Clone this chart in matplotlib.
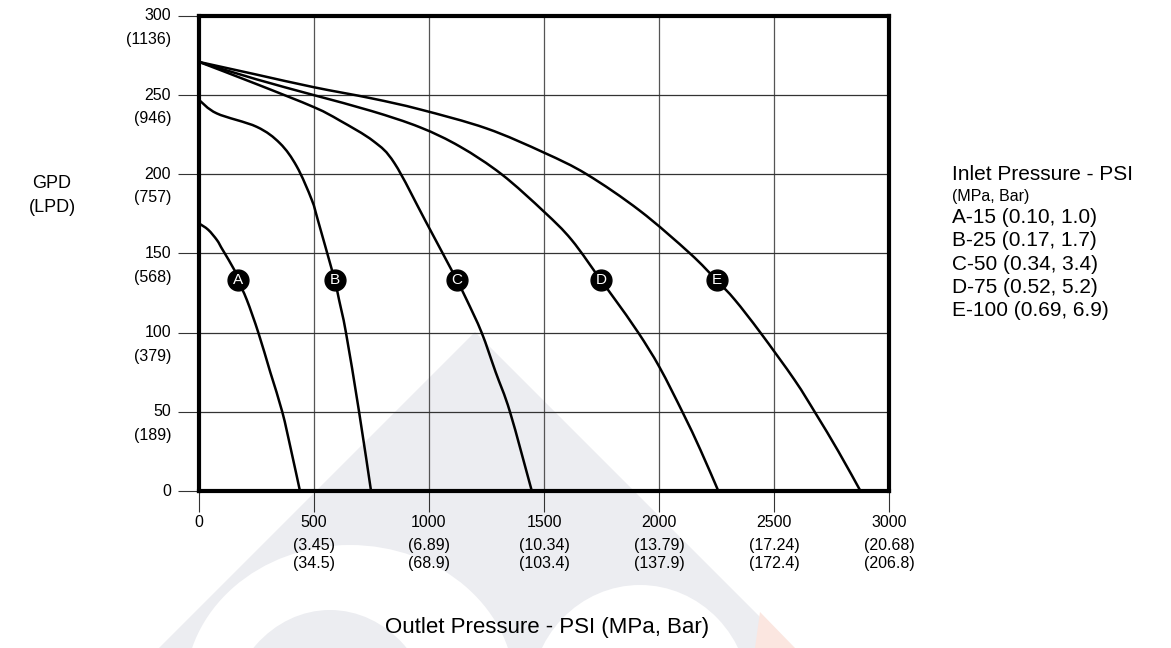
import numpy as np
import matplotlib
matplotlib.use('Agg')
import matplotlib.pyplot as plt
from matplotlib.patches import Polygon, Ellipse, PathPatch
from matplotlib.path import Path

plt.rcParams['font.family'] = ['Liberation Sans', 'DejaVu Sans']

# curve data (outlet psi, GPD)
a_x = [0, 40, 78, 96, 160, 170, 208, 258, 310, 362, 400, 439]
a_y = [169, 165, 158.5, 154, 138, 133, 120.7, 100, 75, 50, 26, 0]
b_x = [0, 77, 251, 352, 425, 490, 517, 578, 591, 609, 639, 696, 748]
b_y = [247, 238.5, 230, 219.6, 205, 184, 171, 139.6, 133, 120.7, 100, 50, 0]
c_x = [0, 250, 500, 612, 758, 850, 983, 1091, 1122, 1164, 1229, 1290, 1352, 1447]
c_y = [271, 257, 242.4, 234, 221, 207, 171, 141.5, 133, 120.7, 100, 75, 50, 0]
d_x = [0, 250, 500, 750, 961, 1135, 1316, 1500, 1620, 1748, 1810, 1910, 2003, 2105, 2180, 2258]
d_y = [271, 260, 250, 240, 229.7, 217.5, 200, 176.4, 158.6, 133, 120.7, 100, 78, 49, 26, 0]
e_x = [0, 250, 500, 750, 961, 1250, 1500, 1686, 1917, 2135, 2251, 2330, 2441, 2590, 2681, 2780, 2876]
e_y = [271, 263, 255, 248, 241, 229, 213.7, 200, 177, 150, 133, 120.7, 100, 70, 49, 25, 0]

curve_names = ['A', 'B', 'C', 'D', 'E']
marker_x = [170, 591, 1122, 1748, 2251]
marker_y = [133, 133, 133, 133, 133]

x_ticks = [0, 500, 1000, 1500, 2000, 2500, 3000]
x_mpa = ['', '(3.45)', '(6.89)', '(10.34)', '(13.79)', '(17.24)', '(20.68)']
x_bar = ['', '(34.5)', '(68.9)', '(103.4)', '(137.9)', '(172.4)', '(206.8)']
y_ticks = [0, 50, 100, 150, 200, 250, 300]
y_lpd = ['', '(189)', '(379)', '(568)', '(757)', '(946)', '(1136)']

legend_lines = ['A-15 (0.10, 1.0)', 'B-25 (0.17, 1.7)', 'C-50 (0.34, 3.4)',
                'D-75 (0.52, 5.2)', 'E-100 (0.69, 6.9)']

W, H = 1171, 648
fig = plt.figure(figsize=(W / 100, H / 100), dpi=100)


def fp(x, y):
    return (x / W, 1 - y / H)


def smooth_path(xs, ys):
    # Catmull-Rom through the read points, drawn as bezier segments
    p = np.column_stack([xs, ys]).astype(float)
    pts = np.vstack([p[0], p, p[-1]])
    verts = [p[0]]
    codes = [Path.MOVETO]
    for i in range(1, len(pts) - 2):
        c1 = pts[i] + (pts[i + 1] - pts[i - 1]) / 6
        c2 = pts[i + 1] - (pts[i + 2] - pts[i]) / 6
        verts += [c1, c2, pts[i + 1]]
        codes += [Path.CURVE4] * 3
    return Path(verts, codes)


# faint logo watermark behind the chart
grey = '#ecedf1'
wm = [Polygon([fp(475, 332), fp(159, 648), fp(791, 648)], closed=True,
              facecolor=grey, edgecolor='none', transform=fig.transFigure, zorder=-3),
      Ellipse(fp(350, 690), 330 / W, 290 / H, facecolor='white', edgecolor='none',
              transform=fig.transFigure, zorder=-2),
      Ellipse(fp(330, 730), 210 / W, 240 / H, facecolor=grey, edgecolor='none',
              transform=fig.transFigure, zorder=-1),
      Ellipse(fp(640, 700), 220 / W, 230 / H, facecolor='white', edgecolor='none',
              transform=fig.transFigure, zorder=-2),
      Polygon([fp(760, 612), fp(795, 648), fp(755, 648)], closed=True,
              facecolor='#fbe6e0', edgecolor='none', transform=fig.transFigure, zorder=-1)]
for p in wm:
    fig.add_artist(p)

ax = fig.add_axes([199 / W, 1 - 491 / H, 690 / W, 475 / H])
ax.set_facecolor('none')
ax.set_xlim(0, 3000)
ax.set_ylim(0, 300)

for v in x_ticks[1:-1]:
    ax.axvline(v, color='#555555', lw=0.9, zorder=1)
for v in y_ticks[1:-1]:
    ax.axhline(v, color='#333333', lw=0.9, zorder=1)

for xs, ys in [(a_x, a_y), (b_x, b_y), (c_x, c_y), (d_x, d_y), (e_x, e_y)]:
    ax.add_patch(PathPatch(smooth_path(xs, ys), facecolor='none', edgecolor='black',
                           lw=1.8, capstyle='butt', zorder=3))

for name, mx, my in zip(curve_names, marker_x, marker_y):
    ax.plot(mx, my, 'o', color='black', markersize=15, zorder=4)
    ax.text(mx, my, name, color='white', fontsize=11, ha='center', va='center',
            zorder=5)

for s in ax.spines.values():
    s.set_linewidth(3)
    s.set_color('black')

ax.set_xticks(x_ticks)
ax.set_yticks(y_ticks)
ax.set_xticklabels([])
ax.set_yticklabels([])
ax.tick_params(direction='out', length=15, width=0.8, color='#333333')

for v, l2 in zip(y_ticks, y_lpd):
    ax.annotate(str(v), xy=(0, v), xycoords=('axes fraction', 'data'),
                xytext=(-20, 0), textcoords='offset points', ha='right', va='center',
                fontsize=11.5)
    if l2:
        ax.annotate(l2, xy=(0, v), xycoords=('axes fraction', 'data'),
                    xytext=(-20, -17), textcoords='offset points', ha='right',
                    va='center', fontsize=11.5)

for v, l2, l3 in zip(x_ticks, x_mpa, x_bar):
    ax.annotate(str(v), xy=(v, 0), xycoords=('data', 'axes fraction'),
                xytext=(0, -23), textcoords='offset points', ha='center', va='center',
                fontsize=11.5)
    if l2:
        ax.annotate(l2, xy=(v, 0), xycoords=('data', 'axes fraction'),
                    xytext=(0, -39), textcoords='offset points', ha='center',
                    va='center', fontsize=11.5)
        ax.annotate(l3, xy=(v, 0), xycoords=('data', 'axes fraction'),
                    xytext=(0, -52), textcoords='offset points', ha='center',
                    va='center', fontsize=11.5)

fig.text(*fp(52, 184), 'GPD', ha='center', va='center', fontsize=13)
fig.text(*fp(52, 207), '(LPD)', ha='center', va='center', fontsize=13)
fig.text(*fp(547, 627), 'Outlet Pressure - PSI (MPa, Bar)', ha='center', va='center',
         fontsize=16)

fig.text(*fp(952, 174), 'Inlet Pressure - PSI', ha='left', va='center', fontsize=15)
fig.text(*fp(952, 196), '(MPa, Bar)', ha='left', va='center', fontsize=11.5)
for i, t in enumerate(legend_lines):
    fig.text(*fp(952, 218 + i * 23), t, ha='left', va='center', fontsize=15)

fig.savefig('out.png', dpi=100)
